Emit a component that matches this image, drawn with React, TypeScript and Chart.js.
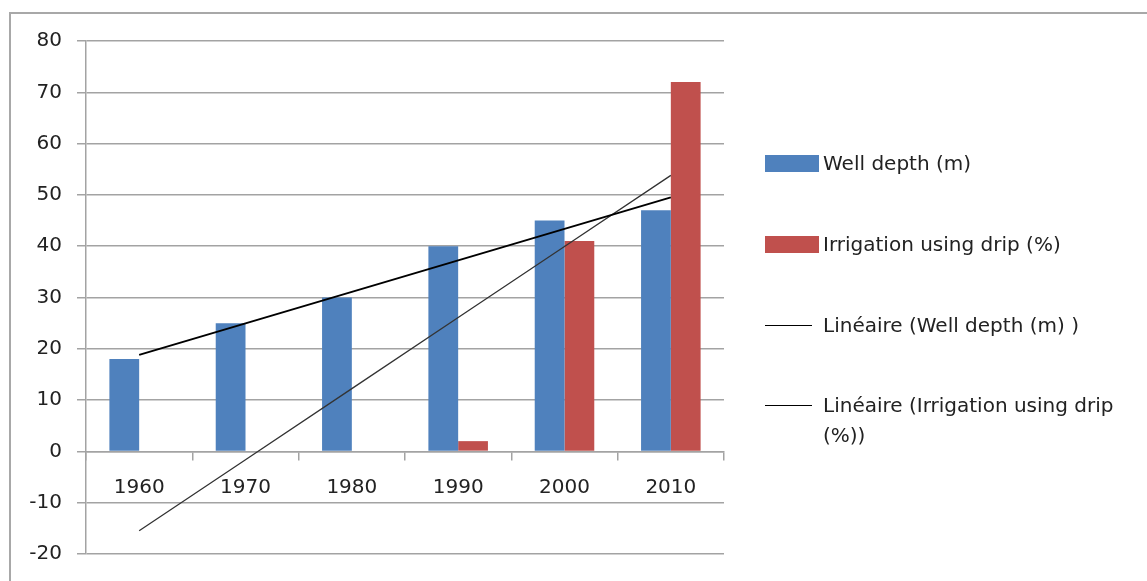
import React, { useEffect, useRef } from "react";
import { Chart, registerables } from "chart.js";

Chart.register(...registerables);

// ---- data ----
const categories = ["1960", "1970", "1980", "1990", "2000", "2010"];
const wellDepth = [18, 25, 30, 40, 45, 47];
const dripIrrigation = [0, 0, 0, 2, 41, 72];
const yMin = -20;
const yMax = 80;
const yStep = 10;
const barLabels = ["Well depth (m)", "Irrigation using drip (%)"];
const trendLabels = ["Linéaire (Well depth (m) )", "Linéaire (Irrigation using drip (%))"];

const BLUE = "#4f81bd";
const RED = "#c0504d";
const GRID = "#a3a3a3";
const TEXT = "#222222";
const FONT = "'DejaVu Sans', sans-serif";

// Least-squares linear trend (Excel "Linéaire" trendline) evaluated at each category
function linearTrend(values: number[]): number[] {
  const n = values.length;
  const xs = values.map((_, i) => i + 1);
  const mx = xs.reduce((a, b) => a + b, 0) / n;
  const my = values.reduce((a, b) => a + b, 0) / n;
  let sxy = 0;
  let sxx = 0;
  for (let i = 0; i < n; i++) {
    sxy += (xs[i] - mx) * (values[i] - my);
    sxx += (xs[i] - mx) * (xs[i] - mx);
  }
  const slope = sxy / sxx;
  const intercept = my - slope * mx;
  return xs.map((x) => intercept + slope * x);
}

function LegendItem({ kind, color, label, top, lineWidth }: any) {
  return (
    <div style={{ position: "absolute", left: 765, top, display: "flex", alignItems: "flex-start" }}>
      {kind === "box" ? (
        <div style={{ width: 54, height: 17, background: color, marginTop: 4, flex: "none" }} />
      ) : (
        <div style={{ width: 47, height: 0, borderTop: `${lineWidth}px solid ${color}`, marginTop: 12, marginRight: 11, flex: "none" }} />
      )}
      <div
        style={{
          marginLeft: kind === "box" ? 4 : 0,
          width: 305,
          fontFamily: FONT,
          fontSize: 20,
          lineHeight: "30px",
          marginTop: -3,
          color: TEXT,
        }}
      >
        {label}
      </div>
    </div>
  );
}

export default function App() {
  const ref = useRef<HTMLCanvasElement | null>(null);

  useEffect(() => {
    if (!ref.current) return;
    const chart = new Chart(ref.current, {
      type: "bar",
      data: {
        labels: categories,
        datasets: [
          {
            type: "line",
            label: trendLabels[0],
            data: linearTrend(wellDepth),
            borderColor: "#000000",
            borderWidth: 2,
            pointRadius: 0,
            fill: false,
            order: 1,
          } as any,
          {
            type: "line",
            label: trendLabels[1],
            data: linearTrend(dripIrrigation),
            borderColor: "#333333",
            borderWidth: 1.3,
            pointRadius: 0,
            fill: false,
            order: 1,
          } as any,
          {
            type: "bar",
            label: barLabels[0],
            data: wellDepth,
            backgroundColor: BLUE,
            borderWidth: 0,
            categoryPercentage: 0.56,
            barPercentage: 1,
            order: 2,
          },
          {
            type: "bar",
            label: barLabels[1],
            data: dripIrrigation,
            backgroundColor: RED,
            borderWidth: 0,
            categoryPercentage: 0.56,
            barPercentage: 1,
            order: 2,
          },
        ],
      },
      options: {
        responsive: false,
        animation: false,
        events: [],
        layout: { padding: { left: 10, top: 41, right: 423, bottom: 23 } },
        plugins: { legend: { display: false }, tooltip: { enabled: false } },
        scales: {
          x: {
            position: { y: 0 } as any,
            offset: true,
            afterFit: (scale: any) => {
              scale.height = 0;
            },
            grid: {
              offset: true,
              drawOnChartArea: false,
              drawTicks: true,
              tickLength: 8,
              color: GRID,
              lineWidth: 1.5,
            },
            border: { display: true, color: GRID, width: 1.5 },
            ticks: {
              color: TEXT,
              font: { family: FONT, size: 20 },
              padding: 16,
              maxRotation: 0,
            },
          },
          y: {
            min: yMin,
            max: yMax,
            afterFit: (scale: any) => {
              scale.width = 76;
            },
            grid: {
              color: GRID,
              lineWidth: 1.5,
              drawTicks: true,
              tickLength: 9,
            },
            border: { display: true, color: GRID, width: 1.5 },
            ticks: {
              stepSize: yStep,
              color: TEXT,
              font: { family: FONT, size: 20 },
              padding: 15,
            },
          },
        },
      },
    });
    return () => chart.destroy();
  }, []);

  return (
    <div
      style={{
        position: "fixed",
        left: 0,
        top: 0,
        width: 1147,
        height: 581,
        overflow: "hidden",
        background: "#ffffff",
      }}
    >
      <div
        style={{
          position: "absolute",
          left: 9,
          top: 12,
          width: 1300,
          height: 800,
          border: "2px solid #a8a8a8",
        }}
      />
      <canvas ref={ref} width={1147} height={581} style={{ position: "absolute", left: 0, top: 0 }} />
      <LegendItem kind="box" color={BLUE} label={barLabels[0]} top={151} />
      <LegendItem kind="box" color={RED} label={barLabels[1]} top={232} />
      <LegendItem kind="line" color="#000000" lineWidth={1.5} label={trendLabels[0]} top={313} />
      <LegendItem kind="line" color="#000000" lineWidth={1.5} label={trendLabels[1]} top={393} />
    </div>
  );
}
